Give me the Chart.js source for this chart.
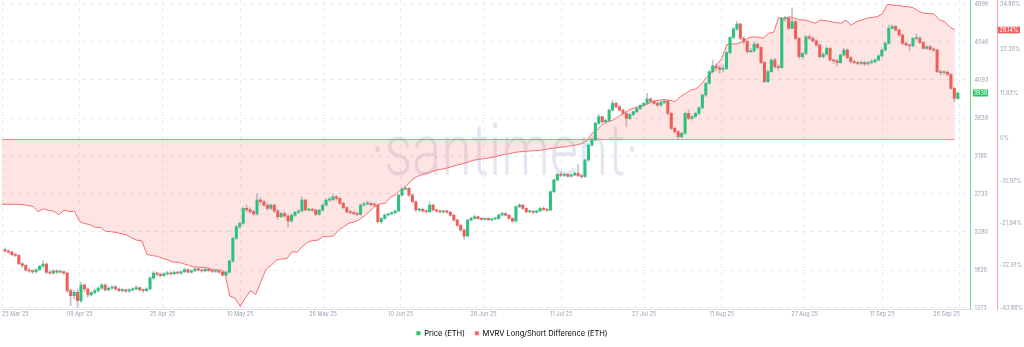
<!DOCTYPE html>
<html>
<head>
<meta charset="utf-8">
<script src="https://cdn.jsdelivr.net/npm/chart.js@4.4.1/dist/chart.umd.min.js"></script>
<style>
html,body{margin:0;padding:0;background:#fff;}
canvas{display:block;}
</style>
</head>
<body>
<canvas id="c" width="1024" height="347"></canvas>
<script>
// ---------- data ----------
const dateLabels = ['25 Mar 25','09 Apr 25','25 Apr 25','10 May 25','26 May 25','10 Jun 25','26 Jun 25','11 Jul 25','27 Jul 25','11 Aug 25','27 Aug 25','11 Sep 25','26 Sep 25'];
const priceTicks = [1373, 1826, 2280, 2733, 3186, 3639, 4093, 4546, 4999];
const mvrvTicks = [-43.88, -32.91, -21.94, -10.97, 0, 11.63, 23.26, 34.88];

const seriesStart = '2025-03-25T00:00:00Z';   // first MVRV daily value
const firstCandle = '2025-03-25T14:00:00Z';   // first price candle
const candleHours = 16;
const axisEnd = '2025-09-27T22:30:00Z';

const firstOpen = 2070;
const closes = [
2052,2040,2010, 2000,1900,1880, 1826,1815,1805, 1830,1870,1897, 1800,1790,1815, 1800,1805,1790,
1580,1520,1560, 1460,1647,1600, 1530,1555,1580, 1610,1647,1590, 1610,1625,1600, 1580,1590,1575,
1590,1600,1615, 1590,1580,1600, 1730,1790,1775, 1760,1780,1790, 1780,1800,1790, 1805,1830,1800,
1815,1840,1825, 1815,1835,1820, 1810,1815,1800, 1766,1800,1933, 2204,2342,2382, 2562,2545,2522,
2495,2661,2641, 2600,2562,2600, 2530,2462,2500, 2470,2410,2480, 2515,2530,2661, 2542,2545,2540,
2490,2540,2600, 2661,2665,2700, 2680,2621,2570, 2521,2510,2500, 2490,2601,2615, 2620,2605,2600,
2402,2440,2482, 2495,2510,2530, 2720,2790,2800, 2720,2641,2542, 2550,2530,2521, 2601,2542,2530,
2520,2530,2515, 2480,2422,2360, 2303,2231,2422, 2442,2462,2440, 2430,2442,2425, 2435,2440,2482,
2500,2480,2442, 2410,2581,2601, 2560,2521,2525, 2515,2530,2561, 2550,2540,2760, 2900,2967,2955,
2965,2945,2960, 2980,2950,2940, 3138,3317,3377, 3576,3655,3596, 3610,3734,3814, 3774,3734,3695,
3635,3680,3714, 3754,3790,3814, 3866,3840,3814, 3794,3825,3842, 3695,3516,3476, 3416,3456,3695,
3635,3655,3695, 3760,3913,4053, 4192,4260,4240, 4220,4230,4420, 4600,4700,4760, 4589,4550,4431,
4440,4520,4480, 4300,4073,4192, 4331,4251,4240, 4828,4828,4709, 4788,4589,4371, 4410,4609,4590,
4560,4510,4371, 4400,4470,4331, 4320,4300,4390, 4450,4360,4311, 4300,4290,4300, 4285,4300,4310,
4331,4380,4450, 4530,4709,4730, 4690,4629,4530, 4510,4500,4589, 4590,4540,4470, 4490,4460,4450,
4192,4180,4185, 4160,3993,3874, 3938
];
const highs = [
2090,2065,2050, 2030,2010,1915, 1895,1845,1830, 1840,1880,1940, 1910,1815,1830, 1830,1825,1820,
1800,1600,1585, 1600,1680,1660, 1615,1570,1600, 1625,1665,1660, 1625,1640,1640, 1615,1605,1600,
1605,1615,1640, 1625,1600,1615, 1745,1810,1800, 1790,1795,1810, 1805,1815,1810, 1815,1850,1840,
1830,1855,1850, 1840,1850,1845, 1835,1830,1825, 1810,1810,1945, 2215,2360,2400, 2580,2600,2570,
2540,2738,2690, 2660,2625,2615, 2610,2550,2515, 2520,2490,2495, 2525,2545,2700, 2670,2565,2560,
2555,2550,2615, 2675,2690,2725, 2715,2690,2635, 2580,2540,2530, 2515,2615,2640, 2650,2640,2625,
2610,2455,2495, 2505,2520,2545, 2730,2800,2825, 2810,2735,2650, 2565,2565,2545, 2640,2610,2555,
2545,2540,2545, 2525,2490,2435, 2370,2315,2430, 2455,2480,2470, 2455,2450,2450, 2445,2450,2495,
2515,2510,2490, 2450,2590,2620, 2610,2570,2540, 2535,2540,2575, 2580,2560,2770, 2910,2985,2995,
2980,2975,2970, 3000,3080,2965, 3150,3330,3400, 3590,3680,3660, 3630,3745,3850, 3825,3790,3745,
3705,3690,3725, 3765,3800,3825, 3935,3880,3850, 3830,3840,3860, 3855,3705,3530, 3490,3470,3710,
3735,3670,3705, 3775,3925,4065, 4205,4331,4290, 4270,4265,4430, 4610,4720,4790, 4770,4610,4565,
4470,4545,4530, 4490,4320,4210, 4345,4350,4280, 4840,4850,4835, 4955,4800,4600, 4425,4620,4630,
4610,4575,4525, 4415,4490,4480, 4345,4340,4400, 4470,4465,4375, 4330,4315,4320, 4320,4315,4335,
4345,4395,4465, 4545,4748,4750, 4745,4700,4640, 4545,4525,4600, 4640,4610,4550, 4500,4505,4475,
4460,4210,4205, 4200,4170,4005, 3950
];
const lows = [
2040,2025,1995, 1985,1890,1860, 1810,1795,1785, 1790,1820,1860, 1780,1770,1780, 1785,1790,1770,
1560,1400,1480, 1385,1440,1570, 1500,1515,1540, 1565,1595,1575, 1575,1595,1585, 1565,1565,1560,
1560,1575,1590, 1575,1560,1570, 1590,1715,1755, 1740,1750,1765, 1765,1770,1775, 1775,1795,1790,
1790,1805,1815, 1800,1805,1810, 1795,1795,1785, 1750,1755,1790, 1920,2190,2320, 2370,2520,2500,
2470,2480,2610, 2585,2540,2545, 2510,2430,2450, 2455,2340,2395, 2465,2500,2520, 2530,2525,2520,
2475,2480,2530, 2590,2640,2650, 2660,2605,2555, 2505,2495,2485, 2475,2480,2585, 2600,2590,2580,
2385,2380,2430, 2470,2485,2495, 2520,2705,2775, 2705,2625,2525, 2520,2515,2500, 2510,2530,2515,
2505,2505,2500, 2470,2405,2345, 2290,2192,2220, 2410,2430,2430, 2420,2420,2415, 2410,2425,2430,
2470,2470,2430, 2395,2400,2570, 2550,2505,2505, 2500,2505,2520, 2535,2525,2530, 2750,2890,2940,
2940,2930,2935, 2950,2940,2920, 2930,3120,3300, 3365,3560,3580, 3580,3595,3720, 3760,3720,3680,
3535,3620,3665, 3700,3740,3775, 3800,3825,3800, 3775,3780,3810, 3680,3500,3455, 3377,3400,3445,
3620,3615,3640, 3680,3745,3895, 4040,4175,4200, 4170,4190,4215, 4405,4585,4680, 4570,4520,4410,
4415,4420,4460, 4285,4060,4060, 4180,4235,4210, 4230,4790,4690, 4700,4575,4350, 4340,4395,4575,
4545,4495,4355, 4355,4385,4315, 4290,4260,4290, 4380,4345,4290, 4285,4270,4275, 4265,4270,4290,
4295,4320,4370, 4440,4520,4700, 4675,4610,4515, 4495,4440,4490, 4570,4525,4455, 4455,4445,4430,
4180,4150,4160, 4140,3980,3834, 3860
];
// MVRV Long/Short Difference (%), one value per day from 25 Mar 25
const mvrv = [
-17.0,-17.0,-17.0,-17.0,-17.1,-17.3,-17.6,-18.9,-18.2,-18.6,
-18.8,-19.7,-18.5,-18.9,-18.8,-21.5,-22.0,-22.3,-23.0,-23.0,
-24.0,-24.1,-24.3,-24.6,-24.9,-25.7,-26.3,-26.5,-30.0,-30.3,
-30.5,-31.0,-31.4,-32.0,-32.0,-32.4,-32.8,-33.2,-33.3,-33.4,
-33.6,-34.0,-34.0,-34.5,-40.8,-41.3,-43.5,-41.3,-39.4,-40.4,
-37.0,-33.8,-32.8,-31.5,-31.2,-31.1,-29.3,-29.4,-28.0,-26.9,
-26.4,-26.3,-25.4,-25.4,-25.2,-23.7,-22.8,-21.9,-21.6,-21.0,
-20.0,-18.8,-17.6,-16.9,-16.8,-15.2,-14.6,-13.2,-12.4,-10.9,
-9.9,-9.4,-9.0,-8.6,-8.1,-7.9,-7.6,-7.2,-6.8,-6.5,
-6.1,-5.6,-5.4,-5.2,-5.0,-4.8,-4.4,-4.1,-3.9,-3.6,
-3.4,-3.3,-3.2,-3.1,-3.0,-2.8,-2.5,-2.4,-2.2,-2.1,
-1.8,-1.6,-1.3,-0.5,1.5,2.3,3.8,4.4,4.8,5.7,
6.5,7.4,7.9,8.3,8.7,9.2,9.7,10.0,10.1,9.9,
9.6,10.9,11.7,12.6,12.9,14.0,15.8,17.0,19.0,20.8,
24.4,24.5,24.6,25.0,26.0,26.4,26.3,26.0,27.3,27.5,
31.4,31.0,31.6,31.2,30.8,30.7,30.4,29.9,30.7,30.6,
30.3,30.1,29.9,30.7,29.4,30.3,30.7,31.2,31.4,31.6,
32.3,34.8,34.6,34.5,34.3,34.2,33.9,33.0,32.5,32.4,
32.3,30.8,30.3,29.0,28.14
];

// ---------- helpers ----------
const DAY = 864e5;
const t0 = Date.parse(seriesStart);
const dayOf = iso => (Date.parse(iso) - t0) / DAY;
const MONTHS = {Jan:0,Feb:1,Mar:2,Apr:3,May:4,Jun:5,Jul:6,Aug:7,Sep:8,Oct:9,Nov:10,Dec:11};
const labelDay = s => { const [d, m, y] = s.split(' '); return (Date.UTC(2000 + (+y), MONTHS[m], +d) - t0) / DAY; };
const tickDays = dateLabels.map(labelDay);

const c0 = dayOf(firstCandle);
const candleX = i => c0 + i * candleHours / 24;
const opens = closes.map((c, i) => i === 0 ? firstOpen : closes[i - 1]);

const GREEN = '#2bc27d', RED = '#ee5f57';
const bodyColors = closes.map((c, i) => c >= opens[i] ? GREEN : RED);
const wickData = closes.map((c, i) => ({x: candleX(i), y: [lows[i], highs[i]]}));
const bodyData = closes.map((c, i) => ({x: candleX(i), y: [opens[i], c]}));
const mvrvData = mvrv.map((v, i) => ({x: i, y: v}));

const AXIS_TEXT = '#9ca1b3';
const GRID = '#ebebf0';
const FONT = 'Inter, "Noto Sans", "DejaVu Sans", sans-serif';
Chart.defaults.font.family = FONT;

// ---------- plugins ----------
const backdrop = {
  id: 'backdrop',
  beforeDatasetsDraw(chart) {
    const {ctx, chartArea, scales: {x, y2}} = chart;
    ctx.save();
    // watermark
    ctx.fillStyle = 'rgba(190,195,222,0.42)';
    ctx.font = '300 72px Roboto, "Open Sans", sans-serif';
    ctx.textAlign = 'center';
    ctx.textBaseline = 'alphabetic';
    ctx.fillText('\u00B7santiment\u00B7', 505, 175, 268);
    // zero line of MVRV
    const yz = Math.round(y2.getPixelForValue(0)) + 0.5;
    ctx.strokeStyle = 'rgba(238,108,108,0.75)';
    ctx.lineWidth = 1;
    ctx.beginPath();
    ctx.moveTo(chartArea.left, yz);
    ctx.lineTo(x.getPixelForValue(mvrv.length - 1), yz);
    ctx.stroke();
    ctx.restore();
  }
};
const tags = {
  id: 'tags',
  afterDraw(chart) {
    const {ctx, scales: {y, y2}} = chart;
    ctx.save();
    ctx.font = '5.5px ' + FONT;
    ctx.textAlign = 'center';
    ctx.textBaseline = 'middle';
    const lastC = closes[closes.length - 1];
    const py = y.getPixelForValue(lastC);
    ctx.fillStyle = '#22c55e';
    ctx.fillRect(y.left + 3, py - 3.5, 15, 7);
    ctx.fillStyle = '#ffffff';
    ctx.fillText(String(lastC), y.left + 10.5, py + 0.3);
    const lastM = mvrv[mvrv.length - 1];
    const my = y2.getPixelForValue(lastM);
    ctx.fillStyle = '#f45c5c';
    ctx.fillRect(y2.left + 1, my - 3.3, 22, 6.6);
    ctx.fillStyle = '#ffffff';
    ctx.fillText(lastM.toFixed(2) + '%', y2.left + 12, my + 0.3);
    ctx.restore();
  }
};

const noVPad = s => { s.width = 27; s.paddingTop = 0; s.paddingBottom = 0; };

// ---------- chart ----------
new Chart(document.getElementById('c'), {
  type: 'bar',
  data: {
    datasets: [
      {
        type: 'bar', label: 'wicks', data: wickData, yAxisID: 'y',
        backgroundColor: 'rgba(150,152,178,0.6)', barThickness: 1, grouped: false, order: 2
      },
      {
        type: 'bar', label: 'Price (ETH)', data: bodyData, yAxisID: 'y',
        backgroundColor: bodyColors, barThickness: 2.4, minBarLength: 1, grouped: false, order: 1
      },
      {
        type: 'line', label: 'MVRV Long/Short Difference (ETH)', data: mvrvData, yAxisID: 'y2',
        borderColor: '#f46e6e', borderWidth: 1, pointRadius: 0, tension: 0,
        fill: {value: 0}, backgroundColor: 'rgba(255,92,92,0.17)', order: 3
      }
    ]
  },
  options: {
    responsive: false,
    devicePixelRatio: 1,
    animation: false,
    events: [],
    layout: {padding: 0},
    scales: {
      x: {
        type: 'linear', min: 0, max: dayOf(axisEnd), offset: false,
        afterBuildTicks: s => { s.ticks = tickDays.map(v => ({value: v})); },
        afterFit: s => { s.height = 10.5; },
        ticks: {
          autoSkip: false, maxRotation: 0, align: 'inner', padding: 2,
          color: AXIS_TEXT, font: {size: 5.5},
          callback: (v, i) => dateLabels[i]
        },
        grid: {color: GRID, drawTicks: false, offset: false},
        border: {display: true, color: '#e3e3e9', dash: [4, 4]}
      },
      y: {
        type: 'linear', position: 'right', weight: 0, min: 1361, max: 5047,
        afterBuildTicks: s => { s.ticks = priceTicks.map(v => ({value: v})); },
        afterFit: noVPad,
        ticks: {color: AXIS_TEXT, font: {size: 5.5}, padding: 4.5, autoSkip: false, callback: v => String(v)},
        grid: {color: GRID, drawTicks: false},
        border: {display: true, color: '#72dc8c', dash: [4, 4]}
      },
      y2: {
        type: 'linear', position: 'right', weight: 1, min: -44.14, max: 35.92,
        afterBuildTicks: s => { s.ticks = mvrvTicks.map(v => ({value: v})); },
        afterFit: noVPad,
        ticks: {color: AXIS_TEXT, font: {size: 5.5}, padding: 3, autoSkip: false,
                callback: v => (v === 0 ? '0' : v.toFixed(2)) + '%'},
        grid: {display: false, drawTicks: false},
        border: {display: true, color: '#f5a0a0'}
      }
    },
    plugins: {
      tooltip: {enabled: false},
      legend: {
        position: 'bottom', align: 'center',
        labels: {
          boxWidth: 4, boxHeight: 4, padding: 10, color: '#303238', font: {size: 7.5},
          generateLabels: () => [
            {text: 'Price (ETH)', fillStyle: '#22c55e', strokeStyle: '#22c55e', lineWidth: 0, hidden: false, datasetIndex: 1},
            {text: 'MVRV Long/Short Difference (ETH)', fillStyle: '#ff5f5f', strokeStyle: '#ff5f5f', lineWidth: 0, hidden: false, datasetIndex: 2}
          ]
        }
      }
    }
  },
  plugins: [backdrop, tags]
});
</script>
</body>
</html>
